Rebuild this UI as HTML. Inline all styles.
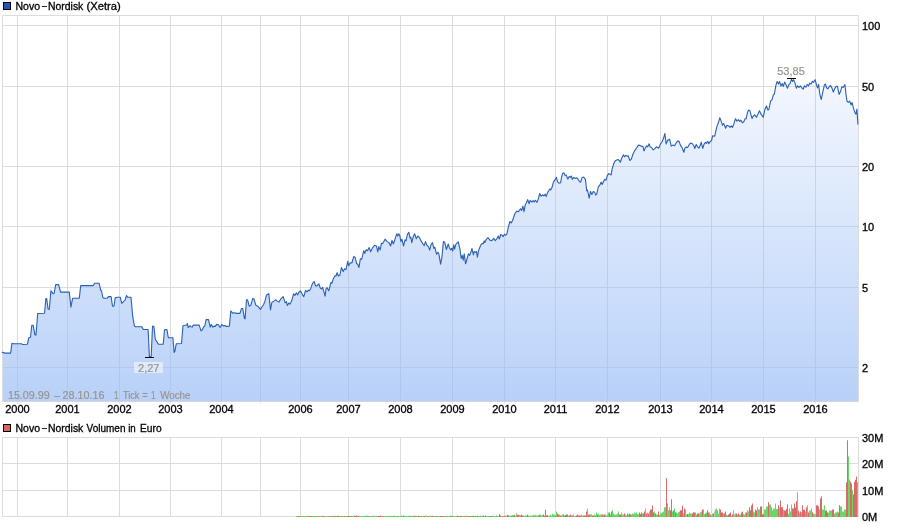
<!DOCTYPE html>
<html><head><meta charset="utf-8"><title>Novo-Nordisk (Xetra)</title>
<style>html,body{margin:0;padding:0;background:#fff}body{width:900px;height:526px;overflow:hidden}svg{display:block;will-change:transform}text{font-family:"Liberation Sans",sans-serif;font-size:11px;fill:#000;stroke:#000;stroke-width:0.3px}.g{fill:#98948f;stroke:#98948f;stroke-width:0.2px}.l{font-size:10.5px}</style></head><body>
<svg width="900" height="526" viewBox="0 0 900 526">
<defs><linearGradient id="fg" gradientUnits="userSpaceOnUse" x1="0" y1="15" x2="0" y2="401"><stop offset="0" stop-color="#9abdf5" stop-opacity="0"/><stop offset="1" stop-color="#9abdf5" stop-opacity="0.7"/></linearGradient></defs>
<rect width="900" height="526" fill="#fff"/>
<g shape-rendering="crispEdges">
<rect x="3" y="25" width="855" height="1" fill="#dcdcdc"/>
<rect x="3" y="86" width="855" height="1" fill="#dcdcdc"/>
<rect x="3" y="166" width="855" height="1" fill="#dcdcdc"/>
<rect x="3" y="226" width="855" height="1" fill="#dcdcdc"/>
<rect x="3" y="287" width="855" height="1" fill="#dcdcdc"/>
<rect x="3" y="367" width="855" height="1" fill="#dcdcdc"/>
<rect x="17" y="16" width="1" height="385" fill="#dcdcdc"/>
<rect x="67" y="16" width="1" height="385" fill="#dcdcdc"/>
<rect x="119" y="16" width="1" height="385" fill="#dcdcdc"/>
<rect x="170" y="16" width="1" height="385" fill="#dcdcdc"/>
<rect x="221" y="16" width="1" height="385" fill="#dcdcdc"/>
<rect x="260" y="16" width="1" height="385" fill="#dcdcdc"/>
<rect x="300" y="16" width="1" height="385" fill="#dcdcdc"/>
<rect x="348" y="16" width="1" height="385" fill="#dcdcdc"/>
<rect x="400" y="16" width="1" height="385" fill="#dcdcdc"/>
<rect x="452" y="16" width="1" height="385" fill="#dcdcdc"/>
<rect x="504" y="16" width="1" height="385" fill="#dcdcdc"/>
<rect x="555" y="16" width="1" height="385" fill="#dcdcdc"/>
<rect x="607" y="16" width="1" height="385" fill="#dcdcdc"/>
<rect x="660" y="16" width="1" height="385" fill="#dcdcdc"/>
<rect x="711" y="16" width="1" height="385" fill="#dcdcdc"/>
<rect x="763" y="16" width="1" height="385" fill="#dcdcdc"/>
<rect x="815" y="16" width="1" height="385" fill="#dcdcdc"/>
<rect x="17" y="402" width="1" height="2" fill="#ececec"/>
<rect x="67" y="402" width="1" height="2" fill="#ececec"/>
<rect x="119" y="402" width="1" height="2" fill="#ececec"/>
<rect x="170" y="402" width="1" height="2" fill="#ececec"/>
<rect x="221" y="402" width="1" height="2" fill="#ececec"/>
<rect x="260" y="402" width="1" height="2" fill="#ececec"/>
<rect x="300" y="402" width="1" height="2" fill="#ececec"/>
<rect x="348" y="402" width="1" height="2" fill="#ececec"/>
<rect x="400" y="402" width="1" height="2" fill="#ececec"/>
<rect x="452" y="402" width="1" height="2" fill="#ececec"/>
<rect x="504" y="402" width="1" height="2" fill="#ececec"/>
<rect x="555" y="402" width="1" height="2" fill="#ececec"/>
<rect x="607" y="402" width="1" height="2" fill="#ececec"/>
<rect x="660" y="402" width="1" height="2" fill="#ececec"/>
<rect x="711" y="402" width="1" height="2" fill="#ececec"/>
<rect x="763" y="402" width="1" height="2" fill="#ececec"/>
<rect x="815" y="402" width="1" height="2" fill="#ececec"/>
</g>
<path d="M3,401 L3,352.4 L2.4,352.4 L5.1,353.1 L10.6,353.1 L12.0,343.2 L13.4,343.8 L21.4,343.8 L22.8,344.5 L27.4,344.2 L28.8,337.7 L30.5,337.3 L31.8,325.3 L33.2,325.3 L34.9,334.9 L36.0,334.9 L37.7,313.5 L44.5,313.2 L45.9,298.6 L46.7,298.6 L48.1,309.2 L49.3,309.2 L50.9,290.8 L52.0,292.1 L52.9,293.8 L54.1,293.5 L55.7,284.6 L58.6,284.6 L60.6,292.1 L69.3,292.1 L70.9,307.2 L72.6,298.3 L79.3,298.1 L80.7,285.6 L93.3,285.6 L94.5,283.2 L99.1,283.2 L100.8,290.4 L101.5,290.8 L102.9,297.6 L103.9,298.3 L107.3,298.3 L108.4,296.6 L111.1,296.6 L112.5,306.2 L114.0,306.2 L115.2,297.9 L117.3,297.3 L120.3,297.3 L121.7,303.3 L123.8,301.4 L125.1,300.0 L126.5,295.5 L127.9,297.3 L131.0,297.3 L132.7,316.1 L134.4,326.0 L135.4,326.7 L141.9,326.7 L143.3,329.5 L148.1,329.5 L149.4,356.6 L151.2,356.6 L152.5,326.4 L153.9,326.4 L155.3,339.2 L158.4,344.2 L163.2,344.2 L164.5,329.8 L166.9,329.5 L168.3,337.7 L172.9,337.7 L174.1,352.4 L174.8,351.7 L176.2,343.8 L181.5,343.5 L183.0,325.7 L186.6,325.0 L187.5,323.6 L188.2,327.7 L190.2,325.7 L190.9,326.7 L192.1,327.1 L193.4,325.1 L199.2,325.1 L201.0,330.9 L202.0,330.2 L203.7,326.8 L204.7,326.4 L206.1,319.6 L208.5,319.6 L210.2,327.1 L211.2,324.4 L212.9,327.1 L214.0,326.1 L215.3,326.4 L216.7,324.4 L218.4,324.7 L220.1,327.5 L221.8,324.4 L223.6,326.1 L224.9,325.4 L226.0,326.4 L229.4,326.1 L230.8,311.0 L232.8,313.1 L234.9,312.7 L235.9,313.4 L240.0,313.4 L241.4,308.6 L242.7,308.6 L244.5,318.6 L245.1,318.6 L246.5,299.7 L247.5,299.7 L249.2,306.2 L251.0,304.9 L252.7,298.4 L254.0,299.0 L255.8,305.2 L257.8,306.2 L260.5,309.3 L263.6,304.5 L265.0,301.1 L266.4,295.3 L268.8,293.6 L270.5,310.0 L271.8,302.5 L273.9,301.1 L275.6,299.7 L277.3,301.1 L279.0,302.1 L281.1,298.4 L283.2,296.6 L285.2,302.8 L286.4,301.7 L287.4,305.5 L288.8,303.1 L290.1,304.1 L291.8,300.3 L293.6,293.8 L294.9,295.5 L296.3,292.8 L297.7,294.9 L298.7,292.5 L300.4,290.8 L301.8,293.5 L303.8,296.6 L305.5,290.4 L306.9,291.8 L308.3,290.1 L309.3,290.8 L310.7,288.7 L312.4,283.6 L314.1,281.5 L315.5,285.6 L316.8,286.0 L318.9,283.9 L320.3,288.0 L321.6,289.0 L322.7,287.3 L325.1,296.2 L326.1,288.4 L327.1,287.7 L328.8,290.8 L330.9,282.5 L331.9,283.2 L333.3,278.8 L335.0,275.7 L336.0,276.0 L337.1,272.6 L338.4,276.0 L339.8,275.3 L341.5,267.5 L343.2,271.6 L344.6,268.8 L346.0,269.5 L347.7,261.3 L348.7,265.8 L350.1,262.7 L351.8,263.0 L353.8,256.5 L355.2,257.5 L356.6,263.7 L357.6,264.0 L359.0,267.5 L360.3,258.9 L361.7,259.2 L363.8,250.7 L364.8,253.4 L366.2,249.7 L367.5,250.7 L369.2,247.6 L370.6,251.7 L372.7,247.6 L374.7,245.2 L376.4,245.9 L377.8,252.0 L378.8,246.6 L380.2,250.0 L381.4,243.3 L382.7,243.6 L385.1,239.2 L387.2,241.6 L389.2,242.9 L390.6,246.0 L392.0,240.5 L393.4,244.0 L395.1,238.8 L396.8,233.7 L397.8,236.1 L398.8,233.7 L399.9,236.1 L400.9,241.6 L401.9,239.2 L403.6,246.0 L405.0,239.9 L406.0,240.9 L407.4,234.4 L408.8,232.3 L410.1,238.2 L410.8,237.1 L411.8,242.6 L413.2,236.8 L414.6,233.7 L416.3,238.8 L417.7,236.1 L419.4,237.5 L421.1,240.9 L423.2,244.3 L424.2,245.7 L425.5,241.6 L426.9,245.3 L428.3,246.4 L429.7,250.1 L431.0,244.7 L432.4,242.6 L433.8,248.4 L434.8,247.1 L436.5,254.2 L437.9,252.2 L438.9,254.2 L440.6,264.2 L442.0,256.6 L443.4,241.6 L444.7,242.3 L446.4,249.5 L448.2,244.0 L449.5,248.1 L450.9,249.8 L451.7,248.3 L452.7,251.0 L453.7,244.9 L454.6,249.2 L455.8,244.4 L456.7,243.4 L458.2,241.9 L459.8,248.4 L461.2,258.4 L462.2,255.3 L463.2,260.1 L464.2,253.9 L465.6,263.8 L467.0,259.0 L468.4,253.9 L469.7,255.3 L471.4,250.5 L472.0,248.5 L473.4,255.0 L474.1,251.5 L475.5,252.4 L476.4,251.5 L477.4,257.2 L478.5,250.7 L480.7,245.1 L482.2,243.4 L483.2,243.8 L484.2,240.9 L484.9,242.4 L486.3,239.3 L488.0,237.6 L490.1,240.3 L491.8,240.7 L493.8,238.3 L495.2,240.7 L496.9,238.6 L498.3,235.9 L499.3,239.0 L500.7,234.5 L502.1,235.2 L503.1,236.6 L504.5,234.2 L505.8,235.2 L506.8,234.2 L508.2,227.7 L509.9,221.5 L511.3,222.9 L512.7,220.1 L514.7,214.0 L516.8,211.2 L518.5,211.6 L520.5,208.8 L521.6,210.5 L522.9,206.1 L524.0,211.6 L525.3,204.7 L526.4,202.7 L527.7,199.6 L529.1,203.7 L530.1,200.3 L531.8,202.0 L533.2,200.6 L534.2,202.0 L535.3,200.3 L537.0,202.3 L538.4,198.6 L539.7,193.4 L541.1,196.2 L542.5,194.8 L543.8,195.8 L545.2,194.1 L546.2,196.5 L547.6,192.4 L548.6,191.0 L549.7,189.0 L550.7,190.0 L552.1,187.3 L553.4,182.1 L554.8,180.1 L556.5,177.3 L557.5,181.8 L558.9,183.2 L560.6,182.8 L561.6,177.0 L562.7,173.2 L564.0,172.9 L565.1,175.6 L566.1,174.9 L567.8,179.0 L569.2,176.6 L570.5,177.3 L571.3,176.0 L572.3,179.4 L573.8,177.3 L575.1,178.4 L576.5,177.7 L577.9,179.0 L579.6,181.8 L580.6,182.1 L582.0,177.7 L583.7,177.0 L585.4,179.4 L586.8,191.0 L587.5,190.0 L589.2,198.2 L590.5,191.4 L591.9,194.5 L593.3,191.4 L594.7,192.4 L595.7,195.1 L596.7,194.1 L598.4,186.9 L599.8,185.2 L601.2,182.1 L602.2,184.5 L603.6,181.4 L604.9,179.4 L606.0,180.1 L607.3,175.6 L608.7,173.6 L610.1,174.2 L611.1,174.9 L612.1,169.1 L613.5,164.3 L614.9,161.2 L616.2,160.2 L617.9,159.5 L619.3,160.5 L620.3,162.3 L621.7,158.2 L623.4,154.7 L624.5,156.8 L625.8,155.4 L627.2,156.1 L628.2,155.8 L629.9,160.5 L631.3,159.2 L633.0,154.0 L634.7,150.6 L636.8,147.5 L638.5,145.1 L640.2,145.5 L641.9,146.5 L642.9,146.2 L644.0,151.0 L645.3,147.9 L646.7,145.8 L647.7,146.8 L649.1,143.8 L650.1,146.8 L651.5,147.5 L653.2,149.9 L654.9,148.6 L656.3,146.8 L657.7,147.5 L658.7,148.2 L660.4,144.1 L662.1,141.7 L663.5,138.3 L664.9,133.5 L666.1,144.0 L667.5,140.5 L669.6,139.2 L671.2,146.1 L673.2,145.1 L674.6,145.8 L676.3,142.7 L678.0,141.0 L679.0,141.3 L680.4,145.1 L682.1,147.8 L683.8,152.3 L684.9,148.2 L686.2,147.1 L687.6,147.5 L689.3,144.4 L690.7,143.0 L692.4,143.7 L693.8,145.8 L694.8,148.5 L696.2,144.4 L697.5,146.8 L698.9,148.2 L699.9,146.1 L701.3,142.3 L702.7,148.5 L704.0,144.4 L705.4,142.3 L706.4,143.4 L707.8,141.3 L708.8,143.7 L710.2,141.6 L711.6,140.3 L712.6,135.8 L714.7,136.2 L715.7,131.7 L717.1,125.9 L718.4,122.8 L719.8,117.7 L721.2,121.4 L722.5,125.2 L723.6,123.5 L724.6,125.5 L725.6,128.3 L727.0,125.2 L728.7,125.9 L730.1,127.3 L731.4,125.9 L732.5,127.3 L733.8,124.2 L735.5,118.7 L736.9,121.1 L738.3,119.7 L739.7,121.4 L740.7,120.1 L742.4,122.8 L743.8,121.8 L745.1,118.7 L746.2,118.7 L747.5,112.5 L748.6,110.1 L749.9,110.8 L751.0,114.9 L752.0,118.4 L753.4,116.0 L754.7,114.9 L756.4,117.3 L757.8,114.6 L759.5,110.8 L760.9,113.9 L762.3,115.9 L763.2,117.3 L764.8,109.8 L766.5,106.0 L767.9,110.1 L768.9,109.5 L770.6,100.9 L772.0,99.9 L773.4,94.7 L774.4,94.0 L775.8,85.8 L777.1,81.4 L778.5,84.1 L779.5,81.4 L780.9,86.2 L782.3,83.4 L783.3,86.5 L784.7,82.1 L786.0,84.8 L787.4,88.2 L788.8,84.8 L790.1,83.4 L791.5,79.3 L792.5,81.4 L793.6,79.7 L794.9,82.7 L796.3,88.2 L797.7,85.8 L799.0,87.5 L800.4,85.8 L801.8,87.9 L803.2,89.2 L804.5,85.8 L805.9,87.2 L807.3,84.5 L808.6,85.8 L809.7,83.1 L811.0,84.1 L812.4,81.4 L813.4,82.4 L815.1,79.7 L816.5,84.8 L817.5,87.9 L818.6,84.5 L819.9,94.7 L821.3,99.5 L822.7,92.3 L824.4,84.8 L825.4,84.1 L826.4,87.5 L827.8,88.9 L829.2,86.8 L830.5,85.5 L831.9,87.9 L833.3,92.0 L834.7,88.6 L836.0,86.5 L837.4,86.2 L839.1,94.4 L840.5,91.6 L841.8,86.8 L843.2,87.5 L844.9,84.5 L846.0,94.4 L847.0,101.2 L848.4,102.3 L849.7,101.2 L851.1,104.7 L852.1,102.6 L853.5,108.4 L854.9,112.5 L855.9,114.2 L856.9,109.1 L857.9,124.2 L858,124.2 L858,401 Z" fill="url(#fg)"/>
<g shape-rendering="crispEdges">
<rect x="2" y="15" width="857" height="1" fill="#dcdcdc"/>
<rect x="2" y="401" width="857" height="1" fill="#d6d6d6"/>
<rect x="2" y="15" width="1" height="387" fill="#dcdcdc"/>
<rect x="858" y="15" width="1" height="387" fill="#dcdcdc"/>
</g>
<path d="M3,352.4 L2.4,352.4 L5.1,353.1 L10.6,353.1 L12.0,343.2 L13.4,343.8 L21.4,343.8 L22.8,344.5 L27.4,344.2 L28.8,337.7 L30.5,337.3 L31.8,325.3 L33.2,325.3 L34.9,334.9 L36.0,334.9 L37.7,313.5 L44.5,313.2 L45.9,298.6 L46.7,298.6 L48.1,309.2 L49.3,309.2 L50.9,290.8 L52.0,292.1 L52.9,293.8 L54.1,293.5 L55.7,284.6 L58.6,284.6 L60.6,292.1 L69.3,292.1 L70.9,307.2 L72.6,298.3 L79.3,298.1 L80.7,285.6 L93.3,285.6 L94.5,283.2 L99.1,283.2 L100.8,290.4 L101.5,290.8 L102.9,297.6 L103.9,298.3 L107.3,298.3 L108.4,296.6 L111.1,296.6 L112.5,306.2 L114.0,306.2 L115.2,297.9 L117.3,297.3 L120.3,297.3 L121.7,303.3 L123.8,301.4 L125.1,300.0 L126.5,295.5 L127.9,297.3 L131.0,297.3 L132.7,316.1 L134.4,326.0 L135.4,326.7 L141.9,326.7 L143.3,329.5 L148.1,329.5 L149.4,356.6 L151.2,356.6 L152.5,326.4 L153.9,326.4 L155.3,339.2 L158.4,344.2 L163.2,344.2 L164.5,329.8 L166.9,329.5 L168.3,337.7 L172.9,337.7 L174.1,352.4 L174.8,351.7 L176.2,343.8 L181.5,343.5 L183.0,325.7 L186.6,325.0 L187.5,323.6 L188.2,327.7 L190.2,325.7 L190.9,326.7 L192.1,327.1 L193.4,325.1 L199.2,325.1 L201.0,330.9 L202.0,330.2 L203.7,326.8 L204.7,326.4 L206.1,319.6 L208.5,319.6 L210.2,327.1 L211.2,324.4 L212.9,327.1 L214.0,326.1 L215.3,326.4 L216.7,324.4 L218.4,324.7 L220.1,327.5 L221.8,324.4 L223.6,326.1 L224.9,325.4 L226.0,326.4 L229.4,326.1 L230.8,311.0 L232.8,313.1 L234.9,312.7 L235.9,313.4 L240.0,313.4 L241.4,308.6 L242.7,308.6 L244.5,318.6 L245.1,318.6 L246.5,299.7 L247.5,299.7 L249.2,306.2 L251.0,304.9 L252.7,298.4 L254.0,299.0 L255.8,305.2 L257.8,306.2 L260.5,309.3 L263.6,304.5 L265.0,301.1 L266.4,295.3 L268.8,293.6 L270.5,310.0 L271.8,302.5 L273.9,301.1 L275.6,299.7 L277.3,301.1 L279.0,302.1 L281.1,298.4 L283.2,296.6 L285.2,302.8 L286.4,301.7 L287.4,305.5 L288.8,303.1 L290.1,304.1 L291.8,300.3 L293.6,293.8 L294.9,295.5 L296.3,292.8 L297.7,294.9 L298.7,292.5 L300.4,290.8 L301.8,293.5 L303.8,296.6 L305.5,290.4 L306.9,291.8 L308.3,290.1 L309.3,290.8 L310.7,288.7 L312.4,283.6 L314.1,281.5 L315.5,285.6 L316.8,286.0 L318.9,283.9 L320.3,288.0 L321.6,289.0 L322.7,287.3 L325.1,296.2 L326.1,288.4 L327.1,287.7 L328.8,290.8 L330.9,282.5 L331.9,283.2 L333.3,278.8 L335.0,275.7 L336.0,276.0 L337.1,272.6 L338.4,276.0 L339.8,275.3 L341.5,267.5 L343.2,271.6 L344.6,268.8 L346.0,269.5 L347.7,261.3 L348.7,265.8 L350.1,262.7 L351.8,263.0 L353.8,256.5 L355.2,257.5 L356.6,263.7 L357.6,264.0 L359.0,267.5 L360.3,258.9 L361.7,259.2 L363.8,250.7 L364.8,253.4 L366.2,249.7 L367.5,250.7 L369.2,247.6 L370.6,251.7 L372.7,247.6 L374.7,245.2 L376.4,245.9 L377.8,252.0 L378.8,246.6 L380.2,250.0 L381.4,243.3 L382.7,243.6 L385.1,239.2 L387.2,241.6 L389.2,242.9 L390.6,246.0 L392.0,240.5 L393.4,244.0 L395.1,238.8 L396.8,233.7 L397.8,236.1 L398.8,233.7 L399.9,236.1 L400.9,241.6 L401.9,239.2 L403.6,246.0 L405.0,239.9 L406.0,240.9 L407.4,234.4 L408.8,232.3 L410.1,238.2 L410.8,237.1 L411.8,242.6 L413.2,236.8 L414.6,233.7 L416.3,238.8 L417.7,236.1 L419.4,237.5 L421.1,240.9 L423.2,244.3 L424.2,245.7 L425.5,241.6 L426.9,245.3 L428.3,246.4 L429.7,250.1 L431.0,244.7 L432.4,242.6 L433.8,248.4 L434.8,247.1 L436.5,254.2 L437.9,252.2 L438.9,254.2 L440.6,264.2 L442.0,256.6 L443.4,241.6 L444.7,242.3 L446.4,249.5 L448.2,244.0 L449.5,248.1 L450.9,249.8 L451.7,248.3 L452.7,251.0 L453.7,244.9 L454.6,249.2 L455.8,244.4 L456.7,243.4 L458.2,241.9 L459.8,248.4 L461.2,258.4 L462.2,255.3 L463.2,260.1 L464.2,253.9 L465.6,263.8 L467.0,259.0 L468.4,253.9 L469.7,255.3 L471.4,250.5 L472.0,248.5 L473.4,255.0 L474.1,251.5 L475.5,252.4 L476.4,251.5 L477.4,257.2 L478.5,250.7 L480.7,245.1 L482.2,243.4 L483.2,243.8 L484.2,240.9 L484.9,242.4 L486.3,239.3 L488.0,237.6 L490.1,240.3 L491.8,240.7 L493.8,238.3 L495.2,240.7 L496.9,238.6 L498.3,235.9 L499.3,239.0 L500.7,234.5 L502.1,235.2 L503.1,236.6 L504.5,234.2 L505.8,235.2 L506.8,234.2 L508.2,227.7 L509.9,221.5 L511.3,222.9 L512.7,220.1 L514.7,214.0 L516.8,211.2 L518.5,211.6 L520.5,208.8 L521.6,210.5 L522.9,206.1 L524.0,211.6 L525.3,204.7 L526.4,202.7 L527.7,199.6 L529.1,203.7 L530.1,200.3 L531.8,202.0 L533.2,200.6 L534.2,202.0 L535.3,200.3 L537.0,202.3 L538.4,198.6 L539.7,193.4 L541.1,196.2 L542.5,194.8 L543.8,195.8 L545.2,194.1 L546.2,196.5 L547.6,192.4 L548.6,191.0 L549.7,189.0 L550.7,190.0 L552.1,187.3 L553.4,182.1 L554.8,180.1 L556.5,177.3 L557.5,181.8 L558.9,183.2 L560.6,182.8 L561.6,177.0 L562.7,173.2 L564.0,172.9 L565.1,175.6 L566.1,174.9 L567.8,179.0 L569.2,176.6 L570.5,177.3 L571.3,176.0 L572.3,179.4 L573.8,177.3 L575.1,178.4 L576.5,177.7 L577.9,179.0 L579.6,181.8 L580.6,182.1 L582.0,177.7 L583.7,177.0 L585.4,179.4 L586.8,191.0 L587.5,190.0 L589.2,198.2 L590.5,191.4 L591.9,194.5 L593.3,191.4 L594.7,192.4 L595.7,195.1 L596.7,194.1 L598.4,186.9 L599.8,185.2 L601.2,182.1 L602.2,184.5 L603.6,181.4 L604.9,179.4 L606.0,180.1 L607.3,175.6 L608.7,173.6 L610.1,174.2 L611.1,174.9 L612.1,169.1 L613.5,164.3 L614.9,161.2 L616.2,160.2 L617.9,159.5 L619.3,160.5 L620.3,162.3 L621.7,158.2 L623.4,154.7 L624.5,156.8 L625.8,155.4 L627.2,156.1 L628.2,155.8 L629.9,160.5 L631.3,159.2 L633.0,154.0 L634.7,150.6 L636.8,147.5 L638.5,145.1 L640.2,145.5 L641.9,146.5 L642.9,146.2 L644.0,151.0 L645.3,147.9 L646.7,145.8 L647.7,146.8 L649.1,143.8 L650.1,146.8 L651.5,147.5 L653.2,149.9 L654.9,148.6 L656.3,146.8 L657.7,147.5 L658.7,148.2 L660.4,144.1 L662.1,141.7 L663.5,138.3 L664.9,133.5 L666.1,144.0 L667.5,140.5 L669.6,139.2 L671.2,146.1 L673.2,145.1 L674.6,145.8 L676.3,142.7 L678.0,141.0 L679.0,141.3 L680.4,145.1 L682.1,147.8 L683.8,152.3 L684.9,148.2 L686.2,147.1 L687.6,147.5 L689.3,144.4 L690.7,143.0 L692.4,143.7 L693.8,145.8 L694.8,148.5 L696.2,144.4 L697.5,146.8 L698.9,148.2 L699.9,146.1 L701.3,142.3 L702.7,148.5 L704.0,144.4 L705.4,142.3 L706.4,143.4 L707.8,141.3 L708.8,143.7 L710.2,141.6 L711.6,140.3 L712.6,135.8 L714.7,136.2 L715.7,131.7 L717.1,125.9 L718.4,122.8 L719.8,117.7 L721.2,121.4 L722.5,125.2 L723.6,123.5 L724.6,125.5 L725.6,128.3 L727.0,125.2 L728.7,125.9 L730.1,127.3 L731.4,125.9 L732.5,127.3 L733.8,124.2 L735.5,118.7 L736.9,121.1 L738.3,119.7 L739.7,121.4 L740.7,120.1 L742.4,122.8 L743.8,121.8 L745.1,118.7 L746.2,118.7 L747.5,112.5 L748.6,110.1 L749.9,110.8 L751.0,114.9 L752.0,118.4 L753.4,116.0 L754.7,114.9 L756.4,117.3 L757.8,114.6 L759.5,110.8 L760.9,113.9 L762.3,115.9 L763.2,117.3 L764.8,109.8 L766.5,106.0 L767.9,110.1 L768.9,109.5 L770.6,100.9 L772.0,99.9 L773.4,94.7 L774.4,94.0 L775.8,85.8 L777.1,81.4 L778.5,84.1 L779.5,81.4 L780.9,86.2 L782.3,83.4 L783.3,86.5 L784.7,82.1 L786.0,84.8 L787.4,88.2 L788.8,84.8 L790.1,83.4 L791.5,79.3 L792.5,81.4 L793.6,79.7 L794.9,82.7 L796.3,88.2 L797.7,85.8 L799.0,87.5 L800.4,85.8 L801.8,87.9 L803.2,89.2 L804.5,85.8 L805.9,87.2 L807.3,84.5 L808.6,85.8 L809.7,83.1 L811.0,84.1 L812.4,81.4 L813.4,82.4 L815.1,79.7 L816.5,84.8 L817.5,87.9 L818.6,84.5 L819.9,94.7 L821.3,99.5 L822.7,92.3 L824.4,84.8 L825.4,84.1 L826.4,87.5 L827.8,88.9 L829.2,86.8 L830.5,85.5 L831.9,87.9 L833.3,92.0 L834.7,88.6 L836.0,86.5 L837.4,86.2 L839.1,94.4 L840.5,91.6 L841.8,86.8 L843.2,87.5 L844.9,84.5 L846.0,94.4 L847.0,101.2 L848.4,102.3 L849.7,101.2 L851.1,104.7 L852.1,102.6 L853.5,108.4 L854.9,112.5 L855.9,114.2 L856.9,109.1 L857.9,124.2" fill="none" stroke="#2a5fb4" stroke-width="1.1" stroke-linejoin="round" stroke-linecap="round"/>
<rect x="145" y="357" width="9" height="1" fill="#000" shape-rendering="crispEdges"/>
<rect x="787" y="78" width="9" height="1" fill="#000" shape-rendering="crispEdges"/>
<rect x="134" y="362" width="29" height="11" fill="#ffffff" fill-opacity="0.5"/>
<text class="g" x="148.8" y="372" text-anchor="middle">2,27</text>
<text class="g" x="791" y="75" text-anchor="middle">53,85</text>
<text class="g" x="7.9" y="398.7" textLength="41.9" lengthAdjust="spacingAndGlyphs">15.09.99</text>
<text class="g" x="54.2" y="398.7" textLength="5.6" lengthAdjust="spacingAndGlyphs">–</text>
<text class="g" x="62.6" y="398.7" textLength="41.9" lengthAdjust="spacingAndGlyphs">28.10.16</text>
<text class="g" x="114" y="398.7" textLength="4.5" lengthAdjust="spacingAndGlyphs">1</text>
<text class="g" x="122.9" y="398.7" textLength="16.6" lengthAdjust="spacingAndGlyphs">Tick</text>
<text class="g" x="142.3" y="398.7" textLength="5.4" lengthAdjust="spacingAndGlyphs">=</text>
<text class="g" x="151" y="398.7" textLength="4.5" lengthAdjust="spacingAndGlyphs">1</text>
<text class="g" x="160.2" y="398.7" textLength="30.3" lengthAdjust="spacingAndGlyphs">Woche</text>
<rect x="3.5" y="2.5" width="7" height="7" fill="#2456b8" stroke="#000" stroke-width="1"/>
<text class="l" x="15.5" y="9.9" textLength="24.6" lengthAdjust="spacingAndGlyphs">Novo</text>
<text class="l" x="42.1" y="8.8" textLength="4.9" lengthAdjust="spacingAndGlyphs">–</text>
<text class="l" x="48" y="9.9" textLength="35.3" lengthAdjust="spacingAndGlyphs">Nordisk</text>
<text class="l" x="86.5" y="9.9" textLength="34.3" lengthAdjust="spacingAndGlyphs">(Xetra)</text>
<rect x="3.5" y="424.5" width="7" height="7" fill="#d86464" stroke="#000" stroke-width="1"/>
<text class="l" x="15.5" y="431.9" textLength="24.6" lengthAdjust="spacingAndGlyphs">Novo</text>
<text class="l" x="42.1" y="430.8" textLength="4.9" lengthAdjust="spacingAndGlyphs">–</text>
<text class="l" x="48" y="431.9" textLength="35.3" lengthAdjust="spacingAndGlyphs">Nordisk</text>
<text class="l" x="86.6" y="431.9" textLength="38.9" lengthAdjust="spacingAndGlyphs">Volumen</text>
<text class="l" x="128.2" y="431.9" textLength="7.6" lengthAdjust="spacingAndGlyphs">in</text>
<text class="l" x="140" y="431.9" textLength="21.6" lengthAdjust="spacingAndGlyphs">Euro</text>
<text x="862" y="29.9">100</text>
<text x="862" y="90.9">50</text>
<text x="862" y="170.9">20</text>
<text x="862" y="230.9">10</text>
<text x="862" y="291.9">5</text>
<text x="862" y="371.9">2</text>
<text x="17.5" y="413" text-anchor="middle">2000</text>
<text x="67.5" y="413" text-anchor="middle">2001</text>
<text x="119.5" y="413" text-anchor="middle">2002</text>
<text x="170.5" y="413" text-anchor="middle">2003</text>
<text x="221.5" y="413" text-anchor="middle">2004</text>
<text x="300.5" y="413" text-anchor="middle">2006</text>
<text x="348.5" y="413" text-anchor="middle">2007</text>
<text x="400.5" y="413" text-anchor="middle">2008</text>
<text x="452.5" y="413" text-anchor="middle">2009</text>
<text x="504.5" y="413" text-anchor="middle">2010</text>
<text x="555.5" y="413" text-anchor="middle">2011</text>
<text x="607.5" y="413" text-anchor="middle">2012</text>
<text x="660.5" y="413" text-anchor="middle">2013</text>
<text x="711.5" y="413" text-anchor="middle">2014</text>
<text x="763.5" y="413" text-anchor="middle">2015</text>
<text x="815.5" y="413" text-anchor="middle">2016</text>
<g shape-rendering="crispEdges">
<rect x="2" y="463" width="857" height="1" fill="#dcdcdc"/>
<rect x="2" y="490" width="857" height="1" fill="#dcdcdc"/>
<rect x="17" y="437" width="1" height="80" fill="#dcdcdc"/>
<rect x="67" y="437" width="1" height="80" fill="#dcdcdc"/>
<rect x="119" y="437" width="1" height="80" fill="#dcdcdc"/>
<rect x="170" y="437" width="1" height="80" fill="#dcdcdc"/>
<rect x="221" y="437" width="1" height="80" fill="#dcdcdc"/>
<rect x="260" y="437" width="1" height="80" fill="#dcdcdc"/>
<rect x="300" y="437" width="1" height="80" fill="#dcdcdc"/>
<rect x="348" y="437" width="1" height="80" fill="#dcdcdc"/>
<rect x="400" y="437" width="1" height="80" fill="#dcdcdc"/>
<rect x="452" y="437" width="1" height="80" fill="#dcdcdc"/>
<rect x="504" y="437" width="1" height="80" fill="#dcdcdc"/>
<rect x="555" y="437" width="1" height="80" fill="#dcdcdc"/>
<rect x="607" y="437" width="1" height="80" fill="#dcdcdc"/>
<rect x="660" y="437" width="1" height="80" fill="#dcdcdc"/>
<rect x="711" y="437" width="1" height="80" fill="#dcdcdc"/>
<rect x="763" y="437" width="1" height="80" fill="#dcdcdc"/>
<rect x="815" y="437" width="1" height="80" fill="#dcdcdc"/>
<rect x="2" y="437" width="857" height="1" fill="#dcdcdc"/>
<rect x="2" y="516" width="857" height="1" fill="#dcdcdc"/>
<rect x="2" y="437" width="1" height="80" fill="#dcdcdc"/>
<rect x="858" y="437" width="1" height="80" fill="#dcdcdc"/>
</g>
<path d="M298,517v-1.1h1v1.1zM299,517v-1.0h1v1.0zM308,517v-1.0h1v1.0zM310,517v-1.1h1v1.1zM311,517v-1.1h1v1.1zM313,517v-1.0h1v1.0zM318,517v-1.0h1v1.0zM322,517v-1.0h1v1.0zM324,517v-1.1h1v1.1zM329,517v-1.0h1v1.0zM330,517v-1.0h1v1.0zM332,517v-1.0h1v1.0zM334,517v-1.0h1v1.0zM337,517v-1.3h1v1.3zM338,517v-1.0h1v1.0zM341,517v-1.0h1v1.0zM344,517v-1.1h1v1.1zM347,517v-1.0h1v1.0zM348,517v-1.0h1v1.0zM349,517v-1.1h1v1.1zM351,517v-1.0h1v1.0zM354,517v-1.3h1v1.3zM355,517v-1.0h1v1.0zM356,517v-1.6h1v1.6zM357,517v-1.0h1v1.0zM358,517v-1.0h1v1.0zM367,517v-1.1h1v1.1zM368,517v-1.0h1v1.0zM371,517v-1.0h1v1.0zM377,517v-1.1h1v1.1zM378,517v-1.0h1v1.0zM379,517v-1.1h1v1.1zM380,517v-1.6h1v1.6zM382,517v-1.0h1v1.0zM393,517v-1.0h1v1.0zM397,517v-1.0h1v1.0zM401,517v-1.3h1v1.3zM403,517v-1.6h1v1.6zM409,517v-1.1h1v1.1zM411,517v-1.0h1v1.0zM414,517v-1.3h1v1.3zM415,517v-1.0h1v1.0zM418,517v-1.3h1v1.3zM419,517v-1.0h1v1.0zM421,517v-1.0h1v1.0zM424,517v-1.1h1v1.1zM428,517v-1.1h1v1.1zM432,517v-1.3h1v1.3zM435,517v-1.1h1v1.1zM437,517v-1.0h1v1.0zM440,517v-1.0h1v1.0zM441,517v-1.0h1v1.0zM442,517v-1.0h1v1.0zM444,517v-1.1h1v1.1zM451,517v-1.0h1v1.0zM452,517v-1.0h1v1.0zM457,517v-1.3h1v1.3zM458,517v-1.0h1v1.0zM460,517v-1.0h1v1.0zM461,517v-1.0h1v1.0zM464,517v-1.1h1v1.1zM468,517v-1.0h1v1.0zM469,517v-1.0h1v1.0zM471,517v-1.0h1v1.0zM472,517v-1.0h1v1.0zM473,517v-1.3h1v1.3zM475,517v-1.0h1v1.0zM477,517v-1.3h1v1.3zM480,517v-1.3h1v1.3zM483,517v-1.5h1v1.5zM485,517v-1.4h1v1.4zM489,517v-1.0h1v1.0zM490,517v-1.0h1v1.0zM491,517v-1.0h1v1.0zM499,517v-2.7h1v2.7zM500,517v-1.4h1v1.4zM502,517v-1.0h1v1.0zM504,517v-1.0h1v1.0zM507,517v-2.2h1v2.2zM508,517v-1.6h1v1.6zM511,517v-1.3h1v1.3zM513,517v-1.6h1v1.6zM514,517v-2.2h1v2.2zM517,517v-2.2h1v2.2zM518,517v-2.2h1v2.2zM520,517v-1.6h1v1.6zM521,517v-2.4h1v2.4zM522,517v-1.6h1v1.6zM527,517v-2.2h1v2.2zM538,517v-1.6h1v1.6zM539,517v-2.2h1v2.2zM543,517v-2.6h1v2.6zM544,517v-1.3h1v1.3zM545,517v-7.3h1v7.3zM546,517v-1.6h1v1.6zM547,517v-1.9h1v1.9zM555,517v-1.3h1v1.3zM557,517v-3.4h1v3.4zM558,517v-2.6h1v2.6zM560,517v-1.4h1v1.4zM563,517v-2.5h1v2.5zM565,517v-1.9h1v1.9zM566,517v-2.5h1v2.5zM567,517v-2.5h1v2.5zM569,517v-1.4h1v1.4zM570,517v-2.5h1v2.5zM572,517v-1.4h1v1.4zM575,517v-0.8h1v0.8zM576,517v-1.4h1v1.4zM577,517v-2.5h1v2.5zM578,517v-1.4h1v1.4zM579,517v-1.4h1v1.4zM580,517v-1.4h1v1.4zM583,517v-1.4h1v1.4zM584,517v-1.4h1v1.4zM585,517v-1.4h1v1.4zM586,517v-5.6h1v5.6zM588,517v-2.5h1v2.5zM589,517v-2.5h1v2.5zM592,517v-1.4h1v1.4zM593,517v-1.4h1v1.4zM595,517v-1.4h1v1.4zM597,517v-2.5h1v2.5zM602,517v-2.5h1v2.5zM604,517v-2.5h1v2.5zM609,517v-4.4h1v4.4zM611,517v-5.6h1v5.6zM619,517v-2.5h1v2.5zM620,517v-2.5h1v2.5zM624,517v-3.6h1v3.6zM627,517v-3.6h1v3.6zM629,517v-3.6h1v3.6zM630,517v-2.5h1v2.5zM639,517v-4.4h1v4.4zM640,517v-3.1h1v3.1zM641,517v-4.4h1v4.4zM643,517v-3.6h1v3.6zM644,517v-5.6h1v5.6zM646,517v-3.6h1v3.6zM648,517v-3.6h1v3.6zM650,517v-7.6h1v7.6zM651,517v-7.6h1v7.6zM652,517v-11.6h1v11.6zM653,517v-4.4h1v4.4zM655,517v-3.6h1v3.6zM658,517v-5.6h1v5.6zM666,517v-38.7h1v38.7zM670,517v-6.7h1v6.7zM671,517v-17.7h1v17.7zM673,517v-6.5h1v6.5zM675,517v-4.8h1v4.8zM680,517v-6.7h1v6.7zM681,517v-6.7h1v6.7zM682,517v-11.6h1v11.6zM684,517v-8.6h1v8.6zM687,517v-3.0h1v3.0zM692,517v-3.6h1v3.6zM693,517v-4.8h1v4.8zM694,517v-4.4h1v4.4zM697,517v-3.6h1v3.6zM698,517v-3.6h1v3.6zM702,517v-7.6h1v7.6zM705,517v-3.6h1v3.6zM707,517v-6.7h1v6.7zM708,517v-4.4h1v4.4zM710,517v-2.5h1v2.5zM713,517v-3.6h1v3.6zM720,517v-7.6h1v7.6zM721,517v-4.4h1v4.4zM722,517v-4.4h1v4.4zM724,517v-3.6h1v3.6zM725,517v-5.6h1v5.6zM727,517v-1.4h1v1.4zM728,517v-2.5h1v2.5zM729,517v-3.6h1v3.6zM730,517v-4.4h1v4.4zM732,517v-2.5h1v2.5zM736,517v-3.6h1v3.6zM738,517v-3.6h1v3.6zM741,517v-4.4h1v4.4zM742,517v-5.6h1v5.6zM746,517v-4.4h1v4.4zM749,517v-9.7h1v9.7zM750,517v-6.7h1v6.7zM751,517v-11.6h1v11.6zM752,517v-13.6h1v13.6zM755,517v-7.6h1v7.6zM756,517v-6.5h1v6.5zM760,517v-10.5h1v10.5zM761,517v-10.5h1v10.5zM762,517v-2.7h1v2.7zM763,517v-2.7h1v2.7zM768,517v-14.7h1v14.7zM778,517v-11.8h1v11.8zM780,517v-16.6h1v16.6zM781,517v-9.7h1v9.7zM782,517v-9.7h1v9.7zM784,517v-6.5h1v6.5zM785,517v-6.5h1v6.5zM786,517v-8.0h1v8.0zM787,517v-12.4h1v12.4zM792,517v-8.6h1v8.6zM793,517v-8.6h1v8.6zM794,517v-13.4h1v13.4zM795,517v-9.7h1v9.7zM796,517v-15.7h1v15.7zM798,517v-6.5h1v6.5zM800,517v-5.6h1v5.6zM802,517v-11.8h1v11.8zM803,517v-7.3h1v7.3zM804,517v-7.3h1v7.3zM806,517v-9.7h1v9.7zM808,517v-4.4h1v4.4zM812,517v-4.8h1v4.8zM816,517v-11.8h1v11.8zM817,517v-11.8h1v11.8zM818,517v-10.5h1v10.5zM820,517v-18.6h1v18.6zM821,517v-20.5h1v20.5zM825,517v-6.5h1v6.5zM826,517v-6.5h1v6.5zM827,517v-4.4h1v4.4zM832,517v-7.6h1v7.6zM833,517v-7.6h1v7.6zM838,517v-4.4h1v4.4zM839,517v-11.8h1v11.8zM846,517v-34.7h1v34.7zM847,517v-76.7h1v76.7zM850,517v-35.5h1v35.5zM851,517v-33.4h1v33.4zM853,517v-22.6h1v22.6zM854,517v-35.0h1v35.0zM855,517v-37.2h1v37.2zM856,517v-40.4h1v40.4z" fill="#d96a6a"/>
<path d="M296,517v-1.0h1v1.0zM297,517v-1.0h1v1.0zM300,517v-1.0h1v1.0zM301,517v-1.0h1v1.0zM302,517v-1.0h1v1.0zM303,517v-1.0h1v1.0zM304,517v-1.1h1v1.1zM305,517v-1.0h1v1.0zM306,517v-1.1h1v1.1zM307,517v-1.3h1v1.3zM309,517v-1.3h1v1.3zM312,517v-1.0h1v1.0zM314,517v-1.0h1v1.0zM315,517v-1.0h1v1.0zM316,517v-1.3h1v1.3zM317,517v-1.0h1v1.0zM319,517v-1.1h1v1.1zM320,517v-1.0h1v1.0zM321,517v-1.3h1v1.3zM323,517v-1.3h1v1.3zM325,517v-1.1h1v1.1zM326,517v-1.1h1v1.1zM327,517v-1.0h1v1.0zM328,517v-1.1h1v1.1zM331,517v-1.0h1v1.0zM333,517v-1.0h1v1.0zM335,517v-1.0h1v1.0zM336,517v-1.0h1v1.0zM339,517v-1.3h1v1.3zM340,517v-1.0h1v1.0zM342,517v-1.0h1v1.0zM343,517v-1.0h1v1.0zM345,517v-1.1h1v1.1zM346,517v-1.0h1v1.0zM350,517v-1.3h1v1.3zM352,517v-1.0h1v1.0zM353,517v-1.3h1v1.3zM359,517v-1.3h1v1.3zM360,517v-1.0h1v1.0zM361,517v-1.3h1v1.3zM362,517v-1.0h1v1.0zM363,517v-1.0h1v1.0zM364,517v-1.3h1v1.3zM365,517v-1.0h1v1.0zM366,517v-1.6h1v1.6zM369,517v-1.0h1v1.0zM370,517v-1.0h1v1.0zM372,517v-1.0h1v1.0zM373,517v-1.6h1v1.6zM374,517v-1.0h1v1.0zM375,517v-1.1h1v1.1zM376,517v-1.3h1v1.3zM381,517v-1.1h1v1.1zM383,517v-1.1h1v1.1zM384,517v-1.0h1v1.0zM385,517v-1.0h1v1.0zM386,517v-1.0h1v1.0zM387,517v-1.3h1v1.3zM388,517v-1.0h1v1.0zM389,517v-1.3h1v1.3zM390,517v-1.0h1v1.0zM391,517v-1.3h1v1.3zM392,517v-1.0h1v1.0zM394,517v-1.6h1v1.6zM395,517v-1.1h1v1.1zM396,517v-1.0h1v1.0zM398,517v-1.0h1v1.0zM399,517v-1.0h1v1.0zM400,517v-1.0h1v1.0zM402,517v-1.0h1v1.0zM404,517v-1.3h1v1.3zM405,517v-1.1h1v1.1zM406,517v-1.0h1v1.0zM407,517v-1.0h1v1.0zM408,517v-1.3h1v1.3zM410,517v-1.3h1v1.3zM412,517v-1.0h1v1.0zM413,517v-1.3h1v1.3zM416,517v-1.3h1v1.3zM417,517v-1.1h1v1.1zM420,517v-1.0h1v1.0zM422,517v-1.1h1v1.1zM423,517v-1.0h1v1.0zM425,517v-1.6h1v1.6zM426,517v-1.3h1v1.3zM427,517v-1.0h1v1.0zM429,517v-1.3h1v1.3zM430,517v-1.3h1v1.3zM431,517v-1.3h1v1.3zM433,517v-1.1h1v1.1zM434,517v-1.1h1v1.1zM436,517v-1.0h1v1.0zM438,517v-1.0h1v1.0zM439,517v-1.0h1v1.0zM443,517v-1.0h1v1.0zM445,517v-1.0h1v1.0zM446,517v-1.0h1v1.0zM447,517v-1.3h1v1.3zM448,517v-1.0h1v1.0zM449,517v-1.0h1v1.0zM450,517v-1.7h1v1.7zM453,517v-1.1h1v1.1zM454,517v-1.0h1v1.0zM455,517v-1.0h1v1.0zM456,517v-1.3h1v1.3zM459,517v-1.0h1v1.0zM462,517v-1.0h1v1.0zM463,517v-1.1h1v1.1zM465,517v-1.3h1v1.3zM466,517v-1.3h1v1.3zM467,517v-1.0h1v1.0zM470,517v-1.0h1v1.0zM474,517v-1.0h1v1.0zM476,517v-1.0h1v1.0zM478,517v-1.0h1v1.0zM479,517v-1.0h1v1.0zM481,517v-1.0h1v1.0zM482,517v-1.6h1v1.6zM484,517v-1.0h1v1.0zM486,517v-1.0h1v1.0zM487,517v-1.3h1v1.3zM488,517v-1.0h1v1.0zM492,517v-1.3h1v1.3zM493,517v-1.3h1v1.3zM494,517v-1.0h1v1.0zM495,517v-1.0h1v1.0zM496,517v-1.7h1v1.7zM497,517v-1.1h1v1.1zM498,517v-1.0h1v1.0zM501,517v-1.1h1v1.1zM503,517v-1.0h1v1.0zM505,517v-1.6h1v1.6zM506,517v-1.3h1v1.3zM509,517v-1.3h1v1.3zM510,517v-1.6h1v1.6zM512,517v-1.9h1v1.9zM515,517v-1.3h1v1.3zM516,517v-3.7h1v3.7zM519,517v-1.9h1v1.9zM523,517v-1.6h1v1.6zM524,517v-1.3h1v1.3zM525,517v-1.6h1v1.6zM526,517v-1.6h1v1.6zM528,517v-1.6h1v1.6zM529,517v-1.3h1v1.3zM530,517v-1.3h1v1.3zM531,517v-1.3h1v1.3zM532,517v-1.6h1v1.6zM533,517v-2.2h1v2.2zM534,517v-1.6h1v1.6zM535,517v-2.2h1v2.2zM536,517v-1.6h1v1.6zM537,517v-1.6h1v1.6zM540,517v-2.6h1v2.6zM541,517v-1.6h1v1.6zM542,517v-1.9h1v1.9zM548,517v-1.3h1v1.3zM549,517v-1.3h1v1.3zM550,517v-2.2h1v2.2zM551,517v-1.6h1v1.6zM552,517v-3.3h1v3.3zM553,517v-2.6h1v2.6zM554,517v-2.4h1v2.4zM556,517v-5.6h1v5.6zM559,517v-2.4h1v2.4zM561,517v-1.4h1v1.4zM562,517v-2.5h1v2.5zM564,517v-1.4h1v1.4zM568,517v-1.4h1v1.4zM571,517v-1.4h1v1.4zM573,517v-2.5h1v2.5zM574,517v-0.8h1v0.8zM581,517v-2.5h1v2.5zM582,517v-1.4h1v1.4zM587,517v-8.6h1v8.6zM590,517v-2.5h1v2.5zM591,517v-2.5h1v2.5zM594,517v-2.5h1v2.5zM596,517v-4.4h1v4.4zM598,517v-3.6h1v3.6zM599,517v-1.9h1v1.9zM600,517v-2.5h1v2.5zM601,517v-2.5h1v2.5zM603,517v-2.5h1v2.5zM605,517v-2.5h1v2.5zM606,517v-1.4h1v1.4zM607,517v-2.5h1v2.5zM608,517v-4.4h1v4.4zM610,517v-2.5h1v2.5zM612,517v-6.7h1v6.7zM613,517v-3.6h1v3.6zM614,517v-2.5h1v2.5zM615,517v-2.5h1v2.5zM616,517v-2.5h1v2.5zM617,517v-3.6h1v3.6zM618,517v-5.6h1v5.6zM621,517v-4.4h1v4.4zM622,517v-2.5h1v2.5zM623,517v-2.5h1v2.5zM625,517v-2.5h1v2.5zM626,517v-1.4h1v1.4zM628,517v-2.5h1v2.5zM631,517v-2.5h1v2.5zM632,517v-3.6h1v3.6zM633,517v-3.1h1v3.1zM634,517v-4.4h1v4.4zM635,517v-3.6h1v3.6zM636,517v-4.4h1v4.4zM637,517v-3.1h1v3.1zM638,517v-2.5h1v2.5zM642,517v-3.6h1v3.6zM645,517v-8.6h1v8.6zM647,517v-4.4h1v4.4zM649,517v-5.6h1v5.6zM654,517v-5.6h1v5.6zM656,517v-2.5h1v2.5zM657,517v-2.5h1v2.5zM659,517v-1.9h1v1.9zM660,517v-3.6h1v3.6zM661,517v-4.2h1v4.2zM662,517v-4.4h1v4.4zM663,517v-5.6h1v5.6zM664,517v-9.7h1v9.7zM665,517v-9.7h1v9.7zM667,517v-13.6h1v13.6zM668,517v-6.7h1v6.7zM669,517v-9.7h1v9.7zM672,517v-5.6h1v5.6zM674,517v-8.6h1v8.6zM676,517v-4.2h1v4.2zM677,517v-3.6h1v3.6zM678,517v-4.8h1v4.8zM679,517v-5.6h1v5.6zM683,517v-3.6h1v3.6zM685,517v-7.6h1v7.6zM686,517v-2.5h1v2.5zM688,517v-3.1h1v3.1zM689,517v-4.4h1v4.4zM690,517v-3.6h1v3.6zM691,517v-3.6h1v3.6zM695,517v-4.4h1v4.4zM696,517v-2.5h1v2.5zM699,517v-3.6h1v3.6zM700,517v-4.8h1v4.8zM701,517v-5.6h1v5.6zM703,517v-7.6h1v7.6zM704,517v-3.1h1v3.1zM706,517v-4.4h1v4.4zM709,517v-4.4h1v4.4zM711,517v-1.4h1v1.4zM712,517v-3.6h1v3.6zM715,517v-7.6h1v7.6zM716,517v-8.6h1v8.6zM717,517v-6.7h1v6.7zM718,517v-3.6h1v3.6zM719,517v-8.6h1v8.6zM723,517v-3.6h1v3.6zM726,517v-2.5h1v2.5zM731,517v-1.4h1v1.4zM733,517v-6.7h1v6.7zM734,517v-2.5h1v2.5zM735,517v-3.6h1v3.6zM737,517v-2.5h1v2.5zM739,517v-2.5h1v2.5zM740,517v-2.5h1v2.5zM743,517v-3.1h1v3.1zM744,517v-2.5h1v2.5zM745,517v-4.4h1v4.4zM747,517v-6.7h1v6.7zM748,517v-5.6h1v5.6zM753,517v-5.6h1v5.6zM754,517v-4.4h1v4.4zM757,517v-9.7h1v9.7zM758,517v-7.6h1v7.6zM759,517v-7.6h1v7.6zM764,517v-7.6h1v7.6zM765,517v-7.6h1v7.6zM766,517v-10.5h1v10.5zM767,517v-10.5h1v10.5zM769,517v-12.4h1v12.4zM770,517v-12.4h1v12.4zM771,517v-9.7h1v9.7zM772,517v-6.5h1v6.5zM773,517v-8.6h1v8.6zM774,517v-8.6h1v8.6zM775,517v-13.4h1v13.4zM776,517v-8.0h1v8.0zM777,517v-8.0h1v8.0zM779,517v-9.7h1v9.7zM783,517v-7.3h1v7.3zM788,517v-3.2h1v3.2zM789,517v-8.6h1v8.6zM790,517v-5.6h1v5.6zM791,517v-12.4h1v12.4zM797,517v-24.7h1v24.7zM799,517v-4.4h1v4.4zM801,517v-4.8h1v4.8zM805,517v-5.6h1v5.6zM807,517v-11.8h1v11.8zM809,517v-6.5h1v6.5zM810,517v-6.5h1v6.5zM811,517v-8.6h1v8.6zM813,517v-3.2h1v3.2zM814,517v-3.2h1v3.2zM815,517v-2.4h1v2.4zM819,517v-7.6h1v7.6zM822,517v-7.6h1v7.6zM823,517v-7.6h1v7.6zM824,517v-11.8h1v11.8zM828,517v-4.4h1v4.4zM829,517v-6.5h1v6.5zM830,517v-6.5h1v6.5zM831,517v-6.5h1v6.5zM834,517v-3.2h1v3.2zM835,517v-4.4h1v4.4zM836,517v-4.4h1v4.4zM837,517v-5.6h1v5.6zM840,517v-10.5h1v10.5zM841,517v-10.5h1v10.5zM842,517v-5.6h1v5.6zM843,517v-5.6h1v5.6zM844,517v-7.6h1v7.6zM845,517v-7.6h1v7.6zM848,517v-60.6h1v60.6zM849,517v-37.6h1v37.6zM852,517v-26.7h1v26.7zM857,517v-34.7h1v34.7z" fill="#66d866"/>
<path d="M714,517v-5.6h1v5.6z" fill="#c4c4c4"/>
<text x="862" y="441.9">30M</text>
<text x="862" y="467.9">20M</text>
<text x="862" y="494.9">10M</text>
<text x="862" y="520.9">0M</text>
</svg></body></html>
